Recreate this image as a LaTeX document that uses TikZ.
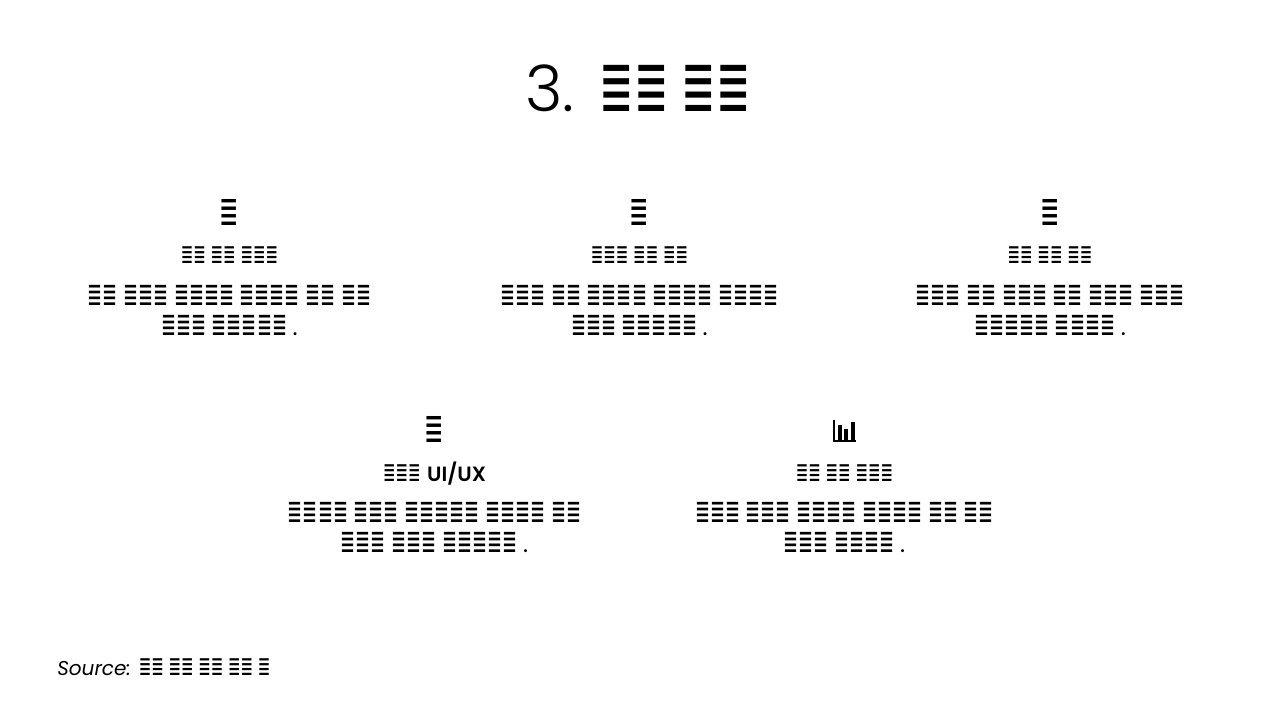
\documentclass[tikz,border=0pt]{standalone}
\usepackage{fontspec}
\setmainfont{Poppins}
\newfontfamily\plight{Poppins Light}
\newfontfamily\psemi{Poppins SemiBold}
\newfontfamily\eqf[FakeStretch=0.56]{DejaVu Sans}
\newcommand\titleeq{\eqf\fontsize{55}{60}\selectfont}
\newcommand\iconeq{\eqf\fontsize{31}{36}\selectfont}
\newcommand\subeq{\eqf\fontsize{20}{24}\selectfont}
\newcommand\bodyeq{\eqf\fontsize{24}{30}\selectfont}
\newcommand\dotp{\normalfont\fontsize{18}{22}\selectfont .}
\tikzset{
  txt/.style={inner sep=0pt, anchor=base, text=black},
  lefttxt/.style={inner sep=0pt, anchor=base west, text=black},
  chartbar/.style={fill=black, draw=none},
  chartaxis/.style={draw=black, line width=0.8pt},
}
\begin{document}
\begin{tikzpicture}[x=0.75pt,y=-0.75pt]
\fill[white] (0,0) rectangle (1280,720);
\useasboundingbox (0,0) rectangle (1280,720);
% title
\node[txt] (title) at (638,112) {{\plight\fontsize{48}{58}\selectfont 3.}\hspace{19pt}{\titleeq ≣≣ ≣≣}};
% row 1, column 1
\node[txt] (i1) at (229.5,226) {\iconeq ≣};
\node[txt] (s1) at (229.5,263) {\subeq ≣≣ ≣≣ ≣≣≣};
\node[txt] (b1a) at (229.5,305) {\bodyeq ≣≣ ≣≣≣ ≣≣≣≣ ≣≣≣≣ ≣≣ ≣≣};
\node[txt] (b1b) at (229.5,335) {\bodyeq ≣≣≣ ≣≣≣≣≣ \dotp};
% row 1, column 2
\node[txt] (i2) at (639.5,226) {\iconeq ≣};
\node[txt] (s2) at (639.5,263) {\subeq ≣≣≣ ≣≣ ≣≣};
\node[txt] (b2a) at (639.5,305) {\bodyeq ≣≣≣ ≣≣ ≣≣≣≣ ≣≣≣≣ ≣≣≣≣};
\node[txt] (b2b) at (639.5,335) {\bodyeq ≣≣≣ ≣≣≣≣≣ \dotp};
% row 1, column 3
\node[txt] (i3) at (1050,226) {\iconeq ≣};
\node[txt] (s3) at (1050,263) {\subeq ≣≣ ≣≣ ≣≣};
\node[txt] (b3a) at (1050,305) {\bodyeq ≣≣≣ ≣≣ ≣≣≣ ≣≣ ≣≣≣ ≣≣≣};
\node[txt] (b3b) at (1050,335) {\bodyeq ≣≣≣≣≣ ≣≣≣≣ \dotp};
% row 2, left
\node[txt] (i4) at (434.5,442) {\iconeq ≣};
\node[txt] (s4) at (434.5,481) {\subeq ≣≣≣\hspace{5pt}{\psemi\fontsize{15.5}{18}\selectfont UI/UX}};
\node[txt] (b4a) at (434.5,522) {\bodyeq ≣≣≣≣ ≣≣≣ ≣≣≣≣≣ ≣≣≣≣ ≣≣};
\node[txt] (b4b) at (434.5,552) {\bodyeq ≣≣≣ ≣≣≣ ≣≣≣≣≣ \dotp};
% row 2, right: bar chart icon
\coordinate (i5) at (844.5,431);
\draw[chartaxis] (834,420) |- (856,441);
\fill[chartbar] (837.5,425) rectangle (841.5,441);
\fill[chartbar] (844,429) rectangle (848,441);
\fill[chartbar] (850.5,421.5) rectangle (854.5,441);
\node[txt] (s5) at (844.5,481) {\subeq ≣≣ ≣≣ ≣≣≣};
\node[txt] (b5a) at (844.5,522) {\bodyeq ≣≣≣ ≣≣≣ ≣≣≣≣ ≣≣≣≣ ≣≣ ≣≣};
\node[txt] (b5b) at (844.5,552) {\bodyeq ≣≣≣ ≣≣≣≣ \dotp};
% source
\node[lefttxt] (src) at (57,675) {\fontsize{15}{18}\selectfont\itshape Source:\hspace{6pt}{\subeq ≣≣ ≣≣ ≣≣ ≣≣ ≣}};
\end{tikzpicture}
\end{document}
